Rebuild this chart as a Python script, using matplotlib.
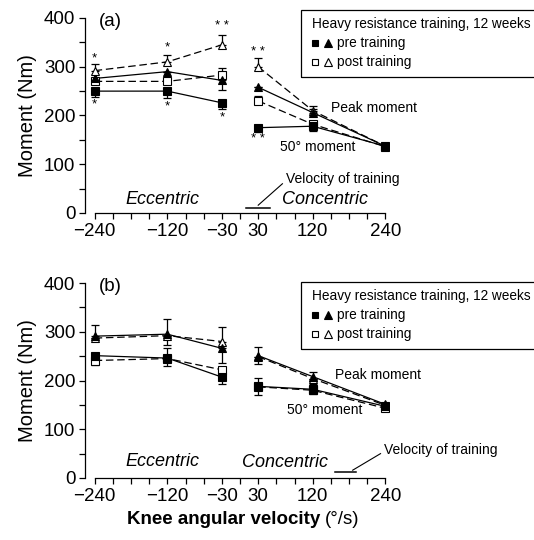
import matplotlib
matplotlib.use("Agg")
import matplotlib.pyplot as plt
from matplotlib.lines import Line2D
from matplotlib.patches import Rectangle

plt.rcParams['font.family'] = ['Liberation Sans', 'DejaVu Sans']

# velocities (deg/s)
ecc_x = [-240, -120, -30]
con_x = [30, 120, 240]
major_ticks = [-240, -120, -30, 30, 120, 240]
minor_ticks = list(range(-240, 241, 30))

# panel (a): peak moment (triangles) and 50 deg moment (squares)
a_pre_peak_ecc = [276, 290, 272]
a_post_peak_ecc = [292, 310, 345]
a_pre_50_ecc = [250, 250, 226]
a_post_50_ecc = [270, 270, 283]
a_pre_peak_con = [258, 206, 137]
a_post_peak_con = [300, 210, 137]
a_pre_50_con = [175, 178, 137]
a_post_50_con = [230, 182, 136]

# error bars (lower, upper)
a_pre_peak_ecc_err = ([0, 0, 20], [0, 0, 0])
a_post_peak_ecc_err = ([0, 0, 0], [13, 15, 20])
a_pre_50_ecc_err = ([12, 15, 12], [0, 0, 0])
a_post_50_ecc_err = ([0, 0, 0], [0, 0, 14])
a_pre_peak_con_err = ([0, 0, 0], [0, 8, 0])
a_post_peak_con_err = ([0, 0, 0], [18, 10, 0])
a_pre_50_con_err = ([8, 10, 0], [0, 0, 0])
a_post_50_con_err = ([0, 0, 0], [10, 0, 0])

# panel (b)
b_pre_peak_ecc = [291, 295, 266]
b_post_peak_ecc = [287, 292, 280]
b_pre_50_ecc = [251, 246, 207]
b_post_50_ecc = [241, 245, 222]
b_pre_peak_con = [251, 208, 151]
b_post_peak_con = [249, 204, 149]
b_pre_50_con = [188, 182, 147]
b_post_50_con = [187, 180, 143]

b_pre_peak_ecc_err = ([0, 22, 30], [23, 31, 0])
b_post_peak_ecc_err = ([0, 0, 0], [0, 0, 30])
b_pre_50_ecc_err = ([0, 16, 14], [0, 20, 0])
b_post_50_ecc_err = ([10, 0, 0], [0, 0, 0])
b_pre_peak_con_err = ([17, 10, 0], [17, 10, 0])
b_post_peak_con_err = ([0, 0, 0], [0, 0, 0])
b_pre_50_con_err = ([18, 10, 0], [18, 10, 0])
b_post_50_con_err = ([0, 0, 0], [0, 0, 0])

# asterisks for panel (a): (x, y, text)
a_stars_x = [-240, -240, -120, -120, -30, -30, 30, 30]
a_stars_y = [318, 222, 339, 219, 383, 197, 331, 152]
a_stars_t = ['*', '*', '*', '*', '* *', '*', '* *', '* *']

W, H = 534, 540
fig = plt.figure(figsize=(W / 100, H / 100), dpi=100)

def fx(px):
    return px / W

def fy(py):
    return 1 - py / H

ax_a = fig.add_axes([fx(85), fy(213), fx(389) - fx(85), 195 / H])
ax_b = fig.add_axes([fx(85), fy(478), fx(389) - fx(85), 195 / H])

def series(ax, x, y, err, marker, filled, dashed):
    ax.errorbar(x, y, yerr=[err[0], err[1]], fmt='none', ecolor='black',
                elinewidth=0.9, capsize=3, capthick=0.9, zorder=2)
    ls = (0, (6, 3)) if dashed else '-'
    ax.plot(x, y, color='black', lw=0.9, ls=ls, zorder=3)
    ax.plot(x, y, ls='none', marker=marker, ms=6 if marker == '^' else 5.5,
            mfc='black' if filled else 'white', mec='black', mew=0.8, zorder=4)

def style(ax):
    ax.set_xlim(-256, 246)
    ax.set_ylim(0, 400)
    ax.spines['top'].set_visible(False)
    ax.spines['right'].set_visible(False)
    ax.spines['bottom'].set_bounds(-240, 240)
    ax.spines['left'].set_bounds(0, 400)
    for s in ('left', 'bottom'):
        ax.spines[s].set_linewidth(0.9)
    ax.set_xticks(major_ticks)
    ax.set_xticklabels(['\u2212240', '\u2212120', '\u221230', '30', '120', '240'])
    ax.set_xticks(minor_ticks, minor=True)
    ax.set_yticks([0, 100, 200, 300, 400])
    ax.set_yticks([50, 150, 250, 350], minor=True)
    ax.tick_params(which='both', direction='out', length=4, width=0.9, labelsize=13.5, pad=3)
    ax.set_ylabel('Moment (Nm)', fontsize=14.5, labelpad=5)
    ax.patch.set_alpha(0)

# panel (a)
series(ax_a, ecc_x, a_pre_50_ecc, a_pre_50_ecc_err, 's', True, False)
series(ax_a, ecc_x, a_post_50_ecc, a_post_50_ecc_err, 's', False, True)
series(ax_a, ecc_x, a_pre_peak_ecc, a_pre_peak_ecc_err, '^', True, False)
series(ax_a, ecc_x, a_post_peak_ecc, a_post_peak_ecc_err, '^', False, True)
series(ax_a, con_x, a_post_50_con, a_post_50_con_err, 's', False, True)
series(ax_a, con_x, a_post_peak_con, a_post_peak_con_err, '^', False, True)
series(ax_a, con_x, a_pre_50_con, a_pre_50_con_err, 's', True, False)
series(ax_a, con_x, a_pre_peak_con, a_pre_peak_con_err, '^', True, False)
for x, y, t in zip(a_stars_x, a_stars_y, a_stars_t):
    ax_a.text(x, y, t, ha='center', va='center', fontsize=9.5)
style(ax_a)
ax_a.text(-214, 392, '(a)', ha='center', va='center', fontsize=13.5)
ax_a.text(-128, 27, 'Eccentric', ha='center', va='center', fontsize=13, style='italic')
ax_a.text(140, 27, 'Concentric', ha='center', va='center', fontsize=13, style='italic')
ax_a.text(150, 215, 'Peak moment', ha='left', va='center', fontsize=10)
ax_a.text(66, 136, '50\u00b0 moment', ha='left', va='center', fontsize=10)
ax_a.text(76, 70, 'Velocity of training', ha='left', va='center', fontsize=10)
ax_a.plot([10, 50], [10, 10], color='black', lw=1.1, clip_on=False)
ax_a.plot([30, 70], [16, 60], color='black', lw=0.8, clip_on=False)

# panel (b)
series(ax_b, ecc_x, b_post_50_ecc, b_post_50_ecc_err, 's', False, True)
series(ax_b, ecc_x, b_pre_50_ecc, b_pre_50_ecc_err, 's', True, False)
series(ax_b, ecc_x, b_post_peak_ecc, b_post_peak_ecc_err, '^', False, True)
series(ax_b, ecc_x, b_pre_peak_ecc, b_pre_peak_ecc_err, '^', True, False)
series(ax_b, con_x, b_post_50_con, b_post_50_con_err, 's', False, True)
series(ax_b, con_x, b_post_peak_con, b_post_peak_con_err, '^', False, True)
series(ax_b, con_x, b_pre_50_con, b_pre_50_con_err, 's', True, False)
series(ax_b, con_x, b_pre_peak_con, b_pre_peak_con_err, '^', True, False)
style(ax_b)
ax_b.text(-214, 392, '(b)', ha='center', va='center', fontsize=13.5)
ax_b.text(-128, 33, 'Eccentric', ha='center', va='center', fontsize=13, style='italic')
ax_b.text(75, 31, 'Concentric', ha='center', va='center', fontsize=13, style='italic')
ax_b.text(157, 212, 'Peak moment', ha='left', va='center', fontsize=10)
ax_b.text(78, 139, '50\u00b0 moment', ha='left', va='center', fontsize=10)
ax_b.text(238, 57, 'Velocity of training', ha='left', va='center', fontsize=10)
ax_b.plot([157, 191], [12, 12], color='black', lw=1.1, clip_on=False)
ax_b.plot([186, 232], [16, 50], color='black', lw=0.8, clip_on=False)

# legend boxes drawn in figure pixels
def legend_box(top, bottom, rows):
    fig.add_artist(Rectangle((fx(301), fy(bottom)), 1.0, fy(top) - fy(bottom),
                             transform=fig.transFigure, fill=False, lw=0.9,
                             ec='black', clip_on=False))
    fig.text(fx(312), fy(rows[0]), 'Heavy resistance training, 12 weeks',
             ha='left', va='center', fontsize=9.8)
    for (row, filled, label) in [(rows[1], True, 'pre training'), (rows[2], False, 'post training')]:
        fc = 'black' if filled else 'white'
        fig.add_artist(Line2D([fx(315)], [fy(row)], marker='s', ms=5, mfc=fc, mec='black',
                              mew=0.8, transform=fig.transFigure))
        fig.add_artist(Line2D([fx(328)], [fy(row)], marker='^', ms=5.5, mfc=fc, mec='black',
                              mew=0.8, transform=fig.transFigure))
        fig.text(fx(337), fy(row), label, ha='left', va='center', fontsize=9.8)

legend_box(10, 77, [24, 43, 62])
legend_box(282, 349, [296, 315, 334])

fig.text(fx(320), fy(520), 'Knee angular velocity', ha='right', va='center',
         fontsize=13.5, fontweight='bold')
fig.text(fx(325), fy(520), '(\u00b0/s)', ha='left', va='center', fontsize=13.5)

fig.savefig('out.png', dpi=100)
